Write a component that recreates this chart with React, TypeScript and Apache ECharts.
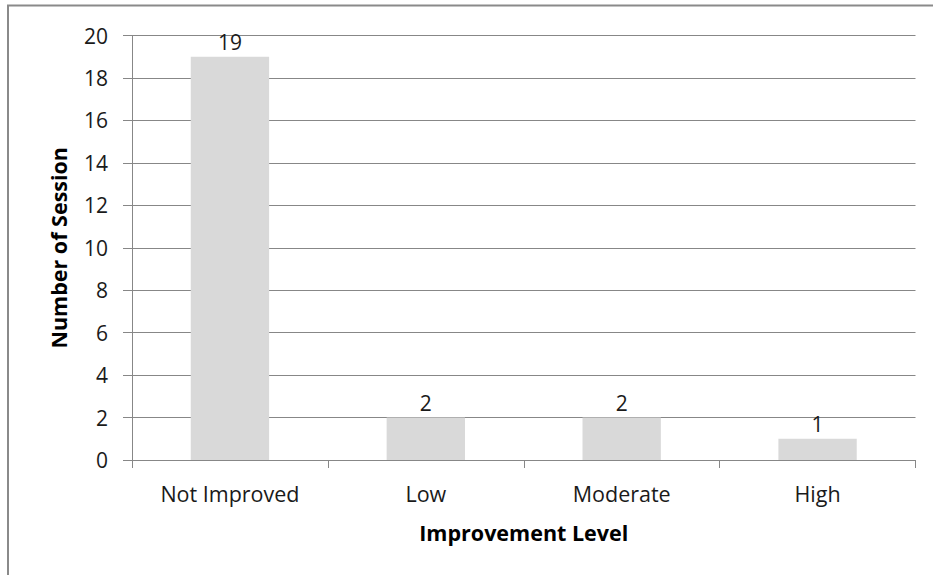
import React, { useEffect, useRef } from "react";
import * as echarts from "echarts";

const categories = ["Not Improved", "Low", "Moderate", "High"];
const sessions = [19, 2, 2, 1];
const yTicks = { min: 0, max: 20, interval: 2 };

const FONT = "'Open Sans', 'Noto Sans', sans-serif";
const AXIS_GRAY = "#878787";
const TEXT = "#1a1a1a";

export default function App() {
  const ref = useRef<HTMLDivElement>(null);

  useEffect(() => {
    if (!ref.current) return;
    const chart = echarts.init(ref.current, null, { renderer: "svg" });
    chart.setOption({
      animation: false,
      backgroundColor: "#ffffff",
      textStyle: { fontFamily: FONT },
      graphic: [
        {
          type: "rect",
          shape: { x: 8, y: 5.5, width: 960, height: 600 },
          style: { fill: "none", stroke: "#8a8a8a", lineWidth: 2 },
          silent: true,
        },
      ],
      grid: { left: 132, right: 17.5, top: 35.5, bottom: 115, containLabel: false },
      xAxis: {
        type: "category",
        data: categories,
        name: "Improvement Level",
        nameLocation: "middle",
        nameGap: 61,
        nameTextStyle: { fontFamily: FONT, fontSize: 21.5, fontWeight: "bold", color: "#000" },
        axisLine: { show: true, lineStyle: { color: AXIS_GRAY, width: 1 } },
        axisTick: { show: true, alignWithLabel: false, interval: 0, length: 8, lineStyle: { color: AXIS_GRAY } },
        axisLabel: { margin: 22, fontFamily: FONT, fontSize: 21.5, color: TEXT, interval: 0 },
        splitLine: { show: false },
      },
      yAxis: {
        type: "value",
        min: yTicks.min,
        max: yTicks.max,
        interval: yTicks.interval,
        name: "Number of Session",
        nameLocation: "middle",
        nameGap: 63,
        nameRotate: 90,
        nameTextStyle: { fontFamily: FONT, fontSize: 21.5, fontWeight: "bold", color: "#000" },
        axisLine: { show: true, lineStyle: { color: AXIS_GRAY, width: 1 } },
        axisTick: { show: true, length: 9, lineStyle: { color: AXIS_GRAY } },
        axisLabel: { margin: 24, fontFamily: FONT, fontSize: 21, color: TEXT },
        splitLine: { show: true, lineStyle: { color: AXIS_GRAY, width: 1 } },
      },
      series: [
        {
          type: "bar",
          data: sessions,
          barWidth: "40%",
          itemStyle: { color: "#d9d9d9" },
          label: {
            show: true,
            position: "top",
            distance: 4,
            fontFamily: FONT,
            fontSize: 21,
            color: TEXT,
          },
        },
      ],
    });
    return () => chart.dispose();
  }, []);

  return (
    <div
      ref={ref}
      style={{ position: "absolute", left: 0, top: 0, width: 933, height: 575 }}
    />
  );
}
